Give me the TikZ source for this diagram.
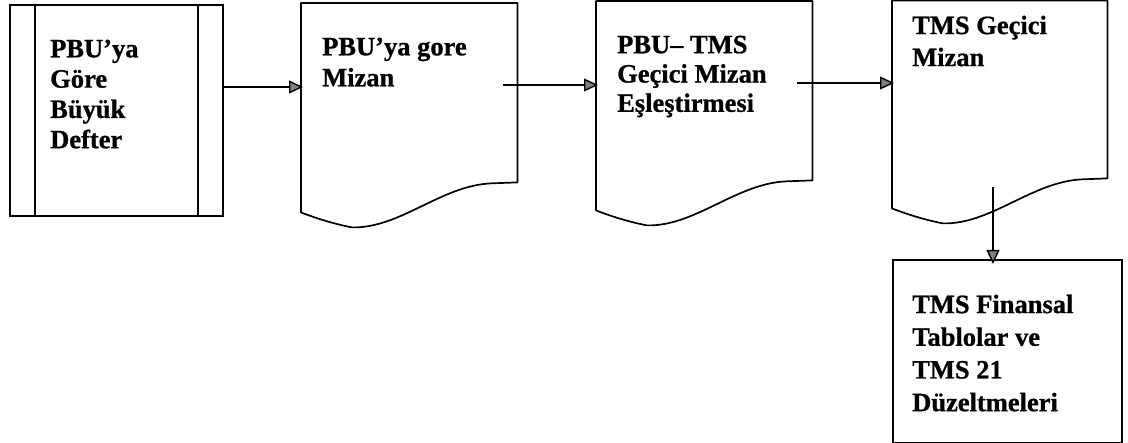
\documentclass[tikz,border=0pt]{standalone}
\usepackage{fontspec}
\setmainfont{Liberation Serif}[BoldFeatures={FakeBold=0.8}]
\usetikzlibrary{arrows.meta,calc}
\tikzset{
  outline/.style={draw=black, line width=1.7pt},
  procbox/.style={outline, fill=white, inner sep=0pt, anchor=north west},
  docbox/.style={draw=none, inner sep=0pt, anchor=north west},
  boxtext/.style={inner sep=0pt, anchor=north west, align=left, text=black,
    font=\fontsize{26.5}{#1}\selectfont\bfseries},
  flow/.style={line width=1.5pt,
    -{Triangle[length=14pt,width=13pt,fill=black!50,line width=1.4pt]},
    shorten >=-2pt},
}
% document symbol: straight top and sides, wavy bottom edge
\newcommand\docoutline[1]{%
  \draw[outline, line join=round]
    (#1.south west) -- (#1.north west) -- (#1.north east)
    -- ($(#1.south east)+(0,-30)$)
    -- ($(#1.south west)+(189,-29)$)
    .. controls ($(#1.south west)+(139,-26)$) and ($(#1.south west)+(99,16)$)
    .. ($(#1.south west)+(51,15)$)
    .. controls ($(#1.south west)+(35,12)$) and ($(#1.south west)+(15,6)$)
    .. (#1.south west) -- cycle;}
\begin{document}
\begin{tikzpicture}[x=1pt,y=-1pt]
  \useasboundingbox (0,0) rectangle (1128,443);

  % ledger: predefined-process box
  \node[procbox, minimum width=213pt, minimum height=211pt] (b1) at (9,4) {};
  \draw[outline] ($(b1.north west)+(26,0)$) -- ($(b1.south west)+(26,0)$);
  \draw[outline] ($(b1.north east)+(-26,0)$) -- ($(b1.south east)+(-26,0)$);
  \node[boxtext=30.3] (t1) at (50,39.5) {PBU’ya\\Göre\\Büyük\\Defter};

  % documents
  \node[docbox, minimum width=216pt, minimum height=209pt] (b2) at (301,3) {};
  \docoutline{b2}
  \node[boxtext=31] (t2) at (322,37.5) {PBU’ya gore\\Mizan};

  \node[docbox, minimum width=216pt, minimum height=209pt] (b3) at (596,1) {};
  \docoutline{b3}
  \node[boxtext=29.3] (t3) at (617,35.5) {PBU– TMS\\Geçici Mizan\\Eşleştirmesi};

  \node[docbox, minimum width=215pt, minimum height=207.5pt] (b4) at (892,0.5) {};
  \docoutline{b4}
  \node[boxtext=32] (t4) at (912,15.5) {TMS Geçici\\Mizan};

  % final statements box
  \node[procbox, minimum width=229pt, minimum height=183pt] (b5) at (892,259) {};
  \node[boxtext=32.7] (t5) at (912,294.5) {TMS Finansal\\Tablolar ve\\TMS 21\\Düzeltmeleri};

  % flow arrows
  \draw[flow] (b1.east |- 0,87) -- (b2.west |- 0,87);
  \draw[flow] ($(b2.east |- 0,85)+(-14,0)$) -- (b3.west |- 0,85);
  \draw[flow] ($(b3.east |- 0,83)+(-15,0)$) -- (b4.west |- 0,83);
  \draw[flow, shorten >=-5pt] (993,187) -- (b5.north -| 993,0);
\end{tikzpicture}
\end{document}
